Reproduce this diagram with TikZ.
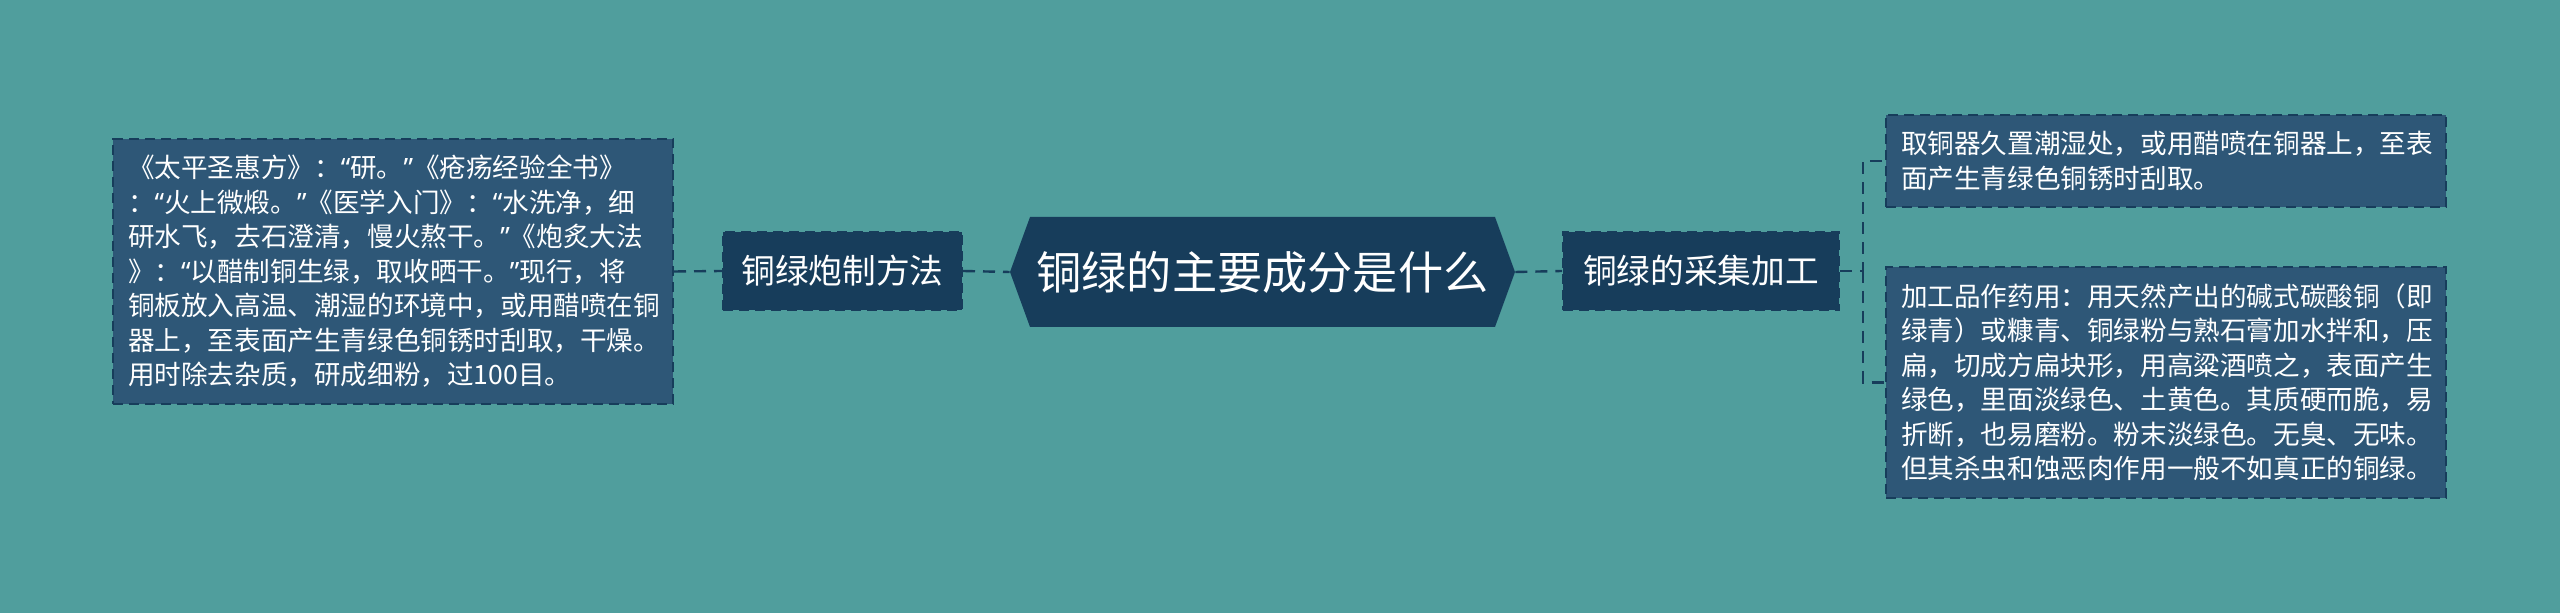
\documentclass[tikz,border=0pt]{standalone}
\usepackage{fontspec}
\setmainfont{Noto Sans CJK SC}
\newfontfamily\quotefont{Noto Sans}
\newcommand{\oq}{{\quotefont “}}
\newcommand{\cq}{{\quotefont ”}}
\usetikzlibrary{shapes.symbols}
\definecolor{bgteal}{RGB}{80,158,157}
\definecolor{navy}{RGB}{23,61,91}
\definecolor{leafblue}{RGB}{46,87,119}
\tikzset{
    root/.style = {signal, signal to=west and east, signal pointer angle=140,
        fill=navy, text=white, inner sep=0pt, minimum width=252.5pt, minimum height=55pt,
        font=\fontsize{22.6}{27}\selectfont},
    branch/.style = {rectangle, fill=navy, draw=navy, line width=1pt, dash pattern=on 5pt off 3pt,
        text=white, inner sep=0pt, minimum height=39pt, font=\fontsize{16.85}{20}\selectfont},
    leaf/.style = {rectangle, fill=leafblue, draw=navy, line width=1pt, dash pattern=on 5pt off 3pt,
        text=white, align=left, text width=265pt, inner xsep=7.5pt, inner ysep=8.3pt,
        font=\fontsize{13.3}{17.25}\selectfont},
    link/.style = {draw=navy, line width=1.2pt, dash pattern=on 6pt off 4pt}}

\begin{document}
\begin{tikzpicture}[x=0.5pt,y=-0.5pt]
        \fill[bgteal] (0,0) rectangle (2560,613);
        \useasboundingbox (0,0) rectangle (2560,613);
        \path (1262.5,272) node[root] (R) {铜绿的主要成分是什么}
        ++ (-420,-1) node[branch, minimum width=119.5pt] (M1) {铜绿炮制方法}
        ++ (-449.5,0.5) node[leaf] (L1) {《太平圣惠方》：\oq 研。\cq《疮疡经验全书》\\
            ：\oq 火上微煅。\cq《医学入门》：\oq 水洗净，细\\
            研水飞，去石澄清，慢火熬干。\cq《炮炙大法\\
            》：\oq 以醋制铜生绿，取收晒干。\cq 现行，将\\
            铜板放入高温、潮湿的环境中，或用醋喷在铜\\
            器上，至表面产生青绿色铜锈时刮取，干燥。\\
            用时除去杂质，研成细粉，过100目。};
        \path (R) ++ (438.5,-1) node[branch, minimum width=138pt] (M2) {铜绿的采集加工}
        ++ (465,-110) node[leaf] (L2) {取铜器久置潮湿处，或用醋喷在铜器上，至表\\
            面产生青绿色铜锈时刮取。}
        ++ (0,221.5) node[leaf] (L3) {加工品作药用：用天然产出的碱式碳酸铜（即\\
            绿青）或糠青、铜绿粉与熟石膏加水拌和，压\\
            扁，切成方扁块形，用高粱酒喷之，表面产生\\
            绿色，里面淡绿色、土黄色。其质硬而脆，易\\
            折断，也易磨粉。粉末淡绿色。无臭、无味。\\
            但其杀虫和蚀恶肉作用一般不如真正的铜绿。};
        \draw[link] (L1.east) -- (M1.west);
        \draw[link] (M1.east) -- (R.west) (R.east) -- (M2.west);
        \draw[link] (M2.east) -- ++(23,0) coordinate (J) |- (L2.west);
        \draw[link] (J) |- (L3.west);
\end{tikzpicture}
\end{document}
